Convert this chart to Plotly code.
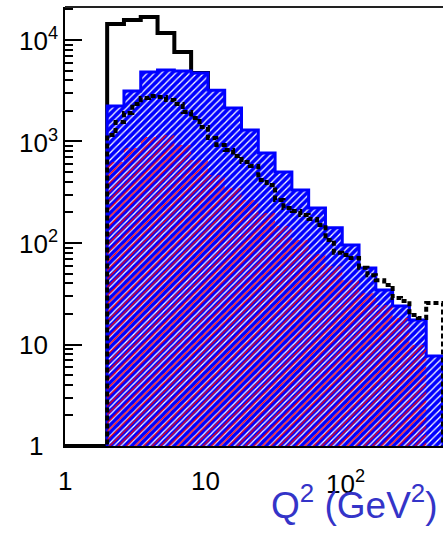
import math
import plotly.graph_objects as go

# ---------------- data ----------------
q2_min, q2_max = 2.0, 500.0          # histogram range (GeV^2)
n_bins_main = 20
n_bins_dashed = 40

# black solid histogram (bins below Q2=2 are empty)
total_counts = [14380, 15740, 16860, 11720, 7620, 4730, 2000, 1000, 520, 265,
                134, 68, 34, 17, 8.8, 4.5, 2.3, 0, 0, 0]
# blue (hatched) histogram
blue_counts = [2240, 3150, 4840, 5060, 4950, 4730, 3200, 2140, 1300, 770,
               500, 333, 221, 141, 95.5, 56.7, 34.4, 23.9, 17.4, 7.7]
# red (hatched) histogram
red_counts = [628, 863, 1107, 1159, 924, 657, 468, 348, 265, 198,
              147, 107, 78, 59, 43, 32, 24.5, 18.2, 9.9, 0]
# black dashed histogram (finer binning)
dashed_counts = [1159, 1556, 1909, 2340, 2684, 2806, 2743, 2564, 2340, 1953,
                 1706, 1390, 1082, 924, 824, 720, 628, 574, 418, 373,
                 265, 221, 207, 189, 172, 150, 107, 80, 76, 71,
                 57, 48, 43, 38.6, 28.7, 26.8, 19.5, 18.2, 25.6, 25.6]

y_tick_vals = [1, 10, 100, 1000, 10000]
y_tick_text = ["1", "10", "10<sup>2</sup>", "10<sup>3</sup>", "10<sup>4</sup>"]
x_tick_vals = [1, 10, 100]
x_tick_text = ["1", "10", "10<sup>2</sup>"]
x_title = "Q<sup>2</sup> (GeV<sup>2</sup>)"

# ---------------- helpers ----------------
def log_edges(lo, hi, n):
    a, b = math.log10(lo), math.log10(hi)
    return [10 ** (a + (b - a) * i / n) for i in range(n + 1)]

def step_path(edges, vals, base, start=None):
    xs, ys = [], []
    if start is not None:
        xs += [start]
        ys += [base]
    xs.append(edges[0]); ys.append(base)
    for i, v in enumerate(vals):
        v = v if v > base else base
        xs += [edges[i], edges[i + 1]]
        ys += [v, v]
    xs.append(edges[-1]); ys.append(base)
    return xs, ys

e_main = log_edges(q2_min, q2_max, n_bins_main)
e_dash = log_edges(q2_min, q2_max, n_bins_dashed)

fig = go.Figure()

# black solid histogram (drawn first, lies under the blue)
xs, ys = step_path(e_main, total_counts, 1.0, start=1.0)
fig.add_trace(go.Scatter(x=xs, y=ys, mode="lines",
                         line=dict(color="black", width=4),
                         hoverinfo="skip", showlegend=False))

# blue hatched histogram
xs, ys = step_path(e_main, blue_counts, 0.5)
fig.add_trace(go.Scatter(x=xs, y=ys, mode="lines", fill="toself",
                         line=dict(color="#0000ff", width=3),
                         fillcolor="#0000ff",
                         fillpattern=dict(shape="/", bgcolor="#0000ff", fgcolor="white",
                                          size=5, solidity=0.25, fillmode="replace"),
                         hoverinfo="skip", showlegend=False))

# red hatched histogram
xs, ys = step_path(e_main, red_counts, 0.5)
fig.add_trace(go.Scatter(x=xs, y=ys, mode="lines", fill="toself",
                         line=dict(color="rgba(0,0,0,0)", width=0),
                         fillcolor="rgba(0,0,0,0)",
                         fillpattern=dict(shape="/", bgcolor="rgba(0,0,0,0)", fgcolor="#ff0000",
                                          size=6, solidity=0.2, fillmode="replace"),
                         hoverinfo="skip", showlegend=False))

# black dashed histogram
xs, ys = step_path(e_dash, dashed_counts, 0.5)
fig.add_trace(go.Scatter(x=xs, y=ys, mode="lines",
                         line=dict(color="black", width=4, dash="5px,3px"),
                         hoverinfo="skip", showlegend=False))

# ---------------- axes ----------------
minor_vals = [m * 10 ** d for d in range(0, 5) for m in range(2, 10)]

fig.update_xaxes(type="log", range=[0, math.log10(q2_max)],
                 showline=True, linecolor="black", linewidth=2,
                 ticks="", showticklabels=False, showgrid=False, zeroline=False)
fig.update_yaxes(type="log", range=[0, 4.325],
                 showline=True, linecolor="black", linewidth=2,
                 ticks="inside", ticklen=17, tickwidth=2, tickcolor="black",
                 tickvals=y_tick_vals, showticklabels=False,
                 minor=dict(ticks="inside", ticklen=8, tickwidth=2, tickcolor="black",
                            tickvals=minor_vals, showgrid=False),
                 showgrid=False, zeroline=False)

annotations = []
lab_font = dict(family="Liberation Sans, Arial, sans-serif", size=26, color="black")
for v, t in zip(y_tick_vals, y_tick_text):
    if t == "1":
        annotations.append(dict(x=(36 - 65) / 378, xref="paper", xanchor="center",
                                y=math.log10(v), yref="y", yanchor="middle",
                                text=t, showarrow=False, font=lab_font))
    else:
        annotations.append(dict(x=(17 - 65) / 378, xref="paper", xanchor="left",
                                y=math.log10(v), yref="y", yanchor="middle",
                                text=t, showarrow=False, font=lab_font))
for v, t in zip(x_tick_vals, x_tick_text):
    annotations.append(dict(x=math.log10(v), xref="x", xanchor="center",
                            y=0, yref="paper", yanchor="top", yshift=-18,
                            text=t, showarrow=False, font=lab_font))
annotations.append(dict(x=1.0, xref="paper", xanchor="right", xshift=-3,
                        y=0, yref="paper", yanchor="top", yshift=-31,
                        text=x_title, showarrow=False,
                        font=dict(family="Liberation Sans, Arial, sans-serif", size=37,
                                  color="#3434c8")))

fig.update_layout(
    width=443, height=537,
    margin=dict(l=65, r=0, t=7, b=91),
    paper_bgcolor="white", plot_bgcolor="white",
    annotations=annotations,
    shapes=[dict(type="line", xref="paper", yref="paper", x0=0, x1=1, y0=1, y1=1,
                 line=dict(color="#222222", width=2))],
    showlegend=False,
)

fig.write_html("out.html", config={"displayModeBar": False},
               post_script="document.body.style.margin='0px';document.body.style.overflow='hidden';")
